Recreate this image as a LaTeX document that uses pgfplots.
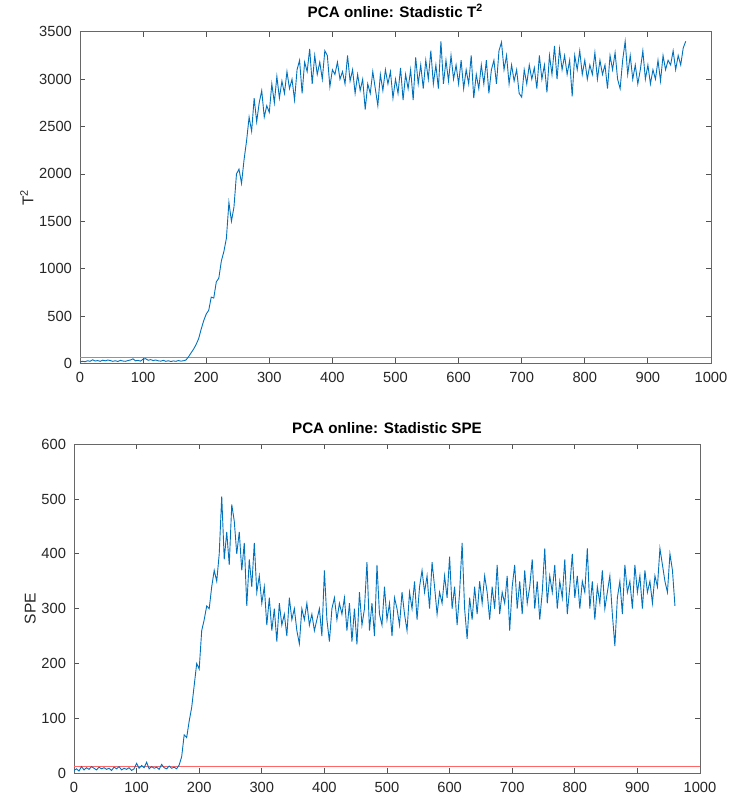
\documentclass[border=0pt]{standalone}
\usepackage{fontspec}
\setmainfont{Liberation Sans}
\usepackage{pgfplots}
\pgfplotsset{compat=1.18}

\definecolor{mblue}{rgb}{0,0.447,0.741}
\definecolor{mred}{rgb}{1,0.4,0.4}
\definecolor{axgray}{gray}{0.15}

\pgfplotsset{
  matlab/.style={
    scale only axis,
    anchor=south west,
    xmin=0, xmax=1000,
    xtick={0,100,...,1000},
    tick align=inside,
    major tick length=2.5pt,
    axis line style={axgray!70, line width=0.4pt},
    tick style={axgray!80, line width=0.4pt},
    every tick label/.style={font=\fontsize{7.35}{8.8}\selectfont, text=axgray},
    /pgf/number format/assume math mode=true,
    /pgf/number format/1000 sep={},
    xticklabel style={yshift=-1pt},
    yticklabel style={xshift=-0.5pt},
    label style={font=\fontsize{7.8}{9}\selectfont, text=axgray},
    ylabel style={yshift=-4pt},
    title style={font=\fontsize{7.6}{9}\selectfont\bfseries, text=black},
  }
}

\begin{document}
\begin{tikzpicture}
\path[use as bounding box] (0pt,0pt) rectangle (364.5pt,400pt);

% ---------- T^2 ----------
\begin{axis}[matlab,
  at={(40pt,218.3pt)}, width=315.5pt, height=165.8pt,
  ymin=0, ymax=3500, ytick={0,500,...,3500},
  title={PCA online: Stadistic T\textsuperscript{2}},
  title style={yshift=-2.5pt},
  ylabel={T\textsuperscript{2}},
]
\addplot[mred, line width=0.6pt] coordinates {(0,62) (1000,62)};
\addplot[mblue, line width=0.45pt] coordinates {
(0,15) (4,22) (8,18) (12,28) (16,22) (20,38) (24,25) (28,30) (32,22) (36,34)
(40,27) (44,36) (48,30) (52,22) (56,28) (60,20) (64,32) (68,25) (72,22) (76,30)
(80,36) (84,48) (88,27) (92,32) (96,24) (100,45) (104,50) (108,33) (112,40) (116,30)
(120,36) (124,27) (128,24) (132,32) (136,22) (140,28) (144,20) (148,26) (152,22) (156,30)
(160,24) (164,28) (168,36) (172,70) (176,110) (180,150) (184,200) (188,260) (192,360) (196,450)
(200,520) (204,560) (208,700) (212,690) (216,860) (220,900) (224,1080) (228,1180) (232,1320) (236,1700)
(240,1500) (244,1650) (248,2000) (252,2050) (256,1900) (260,2150) (264,2350) (268,2600) (272,2450) (276,2800)
(280,2550) (284,2750) (288,2880) (292,2600) (296,2720) (300,2650) (304,2950) (308,2750) (312,3030) (316,2800)
(320,2980) (324,2850) (328,3080) (332,2900) (336,3000) (340,2780) (344,3100) (348,3200) (352,2850) (356,3180)
(360,3080) (364,3320) (368,2950) (372,3250) (376,3050) (380,3180) (384,3000) (388,3300) (392,3250) (396,2920)
(400,3100) (404,3050) (408,3180) (412,3000) (416,3080) (420,2950) (424,3250) (428,2980) (432,3100) (436,2850)
(440,3050) (444,2880) (448,3000) (452,2680) (456,2950) (460,2850) (464,3080) (468,2900) (472,2720) (476,3050)
(480,2880) (484,3100) (488,2950) (492,3080) (496,2800) (500,3000) (504,2850) (508,3120) (512,2780) (516,3050)
(520,2900) (524,3100) (528,2780) (532,3230) (536,2950) (540,3150) (544,2900) (548,3200) (552,3000) (556,3300)
(560,2950) (564,3150) (568,2900) (572,3400) (576,2950) (580,3200) (584,2980) (588,3250) (592,3000) (596,3150)
(600,2950) (604,3200) (608,2900) (612,3100) (616,2950) (620,3250) (624,2800) (628,3050) (632,2900) (636,3150)
(640,2950) (644,3200) (648,2850) (652,3100) (656,3200) (660,2950) (664,3300) (668,3390) (672,3100) (676,3250)
(680,2950) (684,3150) (688,2980) (692,3100) (696,2850) (700,2810) (704,3100) (708,2950) (712,3150) (716,3000)
(720,3120) (724,2900) (728,3250) (732,3000) (736,3150) (740,2860) (744,3250) (748,3050) (752,3350) (756,3000)
(760,3320) (764,3100) (768,3250) (772,3050) (776,3200) (780,2820) (784,3250) (788,3100) (792,3300) (796,3050)
(800,3200) (804,3000) (808,3150) (812,3050) (816,3280) (820,3000) (824,3200) (828,3050) (832,3150) (836,2900)
(840,3250) (844,3100) (848,3280) (852,3000) (856,2900) (860,3200) (864,3400) (868,3050) (872,3250) (876,3000)
(880,3150) (884,2950) (888,3100) (892,3300) (896,3000) (900,3150) (904,2950) (908,3100) (912,3000) (916,3200)
(920,2980) (924,3250) (928,3100) (932,3200) (936,3150) (940,3300) (944,3100) (948,3250) (952,3150) (956,3330)
(960,3400)
};
\end{axis}

% ---------- SPE ----------
\begin{axis}[matlab,
  at={(37pt,13.4pt)}, width=313pt, height=164.5pt,
  ymin=0, ymax=600, ytick={0,100,...,600},
  title={PCA online: Stadistic SPE},
  title style={yshift=-4.5pt},
  ylabel={SPE},
]
\addplot[mred, line width=0.5pt] coordinates {(0,12) (1000,12)};
\addplot[mblue, line width=0.45pt] coordinates {
(0,5) (4,8) (8,4) (12,12) (16,6) (20,10) (24,7) (28,12) (32,9) (36,6)
(40,11) (44,8) (48,10) (52,7) (56,9) (60,5) (64,11) (68,8) (72,12) (76,6)
(80,9) (84,7) (88,10) (92,5) (96,8) (100,18) (104,9) (108,14) (112,10) (116,20)
(120,8) (124,12) (128,9) (132,11) (136,7) (140,16) (144,10) (148,8) (152,13) (156,9)
(160,11) (164,8) (168,15) (172,30) (176,70) (180,65) (184,95) (188,120) (192,160) (196,200)
(200,190) (204,260) (208,280) (212,305) (216,300) (220,340) (224,370) (228,350) (232,400) (236,505)
(240,390) (244,440) (248,380) (252,490) (256,460) (260,400) (264,440) (268,370) (272,420) (276,305)
(280,390) (284,340) (288,420) (292,330) (296,360) (300,310) (304,340) (308,270) (312,320) (316,260)
(320,300) (324,240) (328,310) (332,270) (336,290) (340,250) (344,320) (348,280) (352,300) (356,260)
(360,236) (364,300) (368,280) (372,310) (376,270) (380,290) (384,260) (388,280) (392,300) (396,250)
(400,370) (404,280) (408,240) (412,300) (416,320) (420,280) (424,310) (428,290) (432,320) (436,260)
(440,310) (444,240) (448,300) (452,235) (456,330) (460,270) (464,300) (468,385) (472,260) (476,310)
(480,250) (484,380) (488,290) (492,270) (496,340) (500,280) (504,310) (508,250) (512,320) (516,300)
(520,270) (524,330) (528,290) (532,260) (536,330) (540,300) (544,350) (548,280) (552,340) (556,370)
(560,330) (564,360) (568,300) (572,385) (576,340) (580,290) (584,330) (588,310) (592,360) (596,320)
(600,395) (604,300) (608,340) (612,270) (616,330) (620,420) (624,300) (628,245) (632,320) (636,280)
(640,340) (644,290) (648,350) (652,310) (656,360) (660,330) (664,280) (668,340) (672,300) (676,380)
(680,290) (684,330) (688,310) (692,360) (696,260) (700,340) (704,380) (708,300) (712,350) (716,290)
(720,370) (724,310) (728,340) (732,390) (736,300) (740,350) (744,280) (748,330) (752,410) (756,310)
(760,360) (764,330) (768,380) (772,300) (776,350) (780,320) (784,390) (788,290) (792,340) (796,400)
(800,320) (804,360) (808,300) (812,350) (816,330) (820,410) (824,300) (828,350) (832,280) (836,340)
(840,310) (844,370) (848,300) (852,330) (856,360) (860,290) (864,232) (868,320) (872,350) (876,290)
(880,380) (884,330) (888,350) (892,300) (896,380) (900,330) (904,360) (908,300) (912,370) (916,330)
(920,350) (924,310) (928,360) (932,340) (936,410) (940,380) (944,350) (948,330) (952,400) (956,370)
(960,305)
};
\end{axis}
\end{tikzpicture}
\end{document}
